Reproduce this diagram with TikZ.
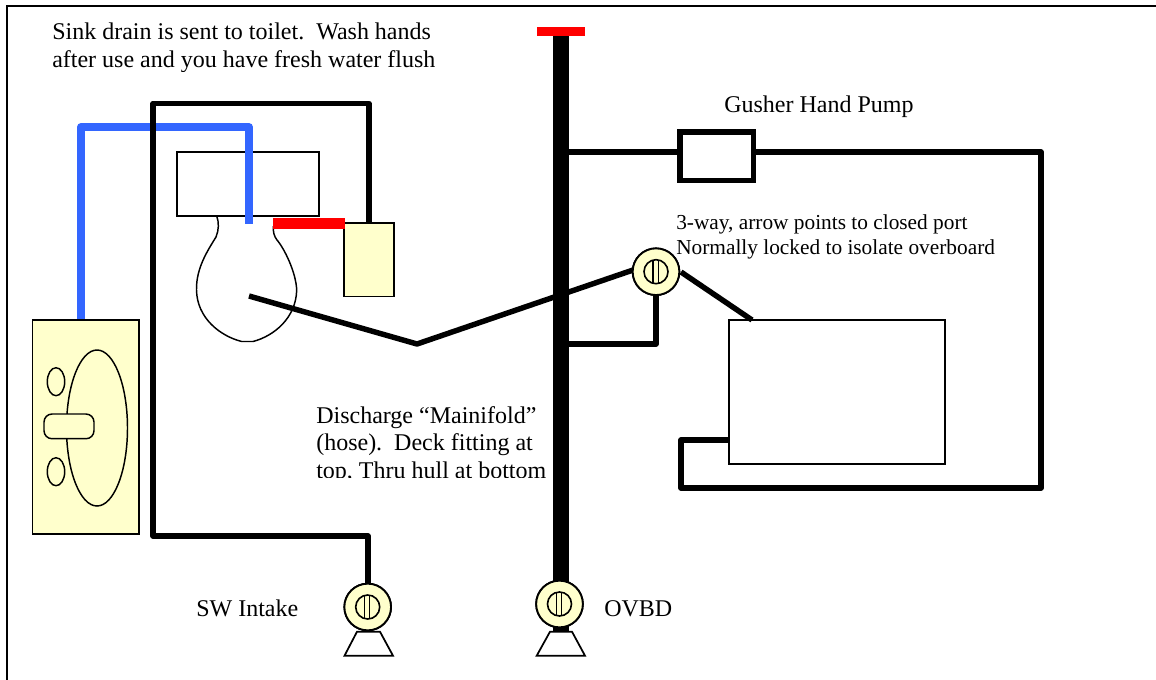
\documentclass[tikz,border=0pt]{standalone}
\usepackage{fontspec}
\setmainfont{Liberation Serif}
\tikzset{
  x=0.75pt,y=-0.75pt,
  pipe/.style={draw=black,line width=4.1pt,line join=round},
  mainpipe/.style={draw=black,line width=12pt},
  bluepipe/.style={draw=bluepipecol,line width=5.8pt,line join=round},
  redbar/.style={fill=red,draw=none},
  thin box/.style={draw=black,line width=1.3pt},
  yellow box/.style={draw=black,line width=1.3pt,fill=paleyellow},
  outline/.style={draw=black,line width=1.1pt},
  valvebody/.style={circle,draw=black,line width=1.4pt,fill=paleyellow,minimum size=35pt,inner sep=0pt},
  valvecore/.style={circle,draw=black,line width=1.2pt,minimum size=18pt,inner sep=0pt},
  label/.style={anchor=north west,inner sep=0pt,align=left,font=\fontsize{18}{20.6}\selectfont},
  smalllabel/.style={anchor=north west,inner sep=0pt,align=left,font=\fontsize{16}{19.3}\selectfont},
}
\definecolor{paleyellow}{RGB}{255,255,204}
\definecolor{bluepipecol}{RGB}{51,102,255}
\newcommand{\valvemark}[1]{%
  \draw[black,line width=0.9pt] ([xshift=-2.25pt,yshift=8.3pt]#1.center) -- ([xshift=-2.25pt,yshift=-8.3pt]#1.center);
  \draw[black,line width=0.9pt] ([xshift=1.6pt,yshift=8.3pt]#1.center) -- ([xshift=1.6pt,yshift=-8.3pt]#1.center);
}
\begin{document}
\begin{tikzpicture}
\useasboundingbox (0,0) rectangle (1156,679);
% frame
\draw[black,line width=1.9pt] (7,690) -- (7,6) -- (1170,6);
% text
\begin{scope}
\clip (40,15) rectangle (500,71);
\node[label] (sinktext) at (52,23) {Sink drain is sent to toilet.\ \ Wash hands\\after use and you have fresh water flush};
\end{scope}
\node[label,anchor=base west] (pumptext) at (724,112.3) {Gusher Hand Pump};
\node[smalllabel] (waytext) at (676,214) {3-way, arrow points to closed port\\Normally locked to isolate overboard};
\begin{scope}
\clip (300,395) rectangle (552,477.5);
\node[label] (hosetext) at (316,406) {Discharge “Mainifold”\\(hose).\ \ Deck fitting at\\top, Thru hull at bottom};
\end{scope}
\node[label,anchor=base west] (swtext) at (196,616) {SW Intake};
\node[label,anchor=base west] (ovbdtext) at (604,616) {OVBD};
% blue
\coordinate (blueA) at (81,319);
\coordinate (blueB) at (81,127);
\coordinate (blueC) at (249,127);
\coordinate (blueD) at (249,223.5);
% sink
\node[thin box,minimum width=106.5pt,minimum height=48pt,inner sep=0pt] (sink) at (248,183.7) {};
\draw[bluepipe] (blueA) -- (blueB) -- (blueC) -- (blueD);
% bowl
\draw[outline] (216.7,216) .. controls (219,222) and (219,230) .. (216,237)
  .. controls (208,250) and (196,268) .. (196.5,290)
  .. controls (197,318) and (220,336) .. (241.7,341.5)
  -- (253,341.5)
  .. controls (274,336) and (296,318) .. (296.7,290)
  .. controls (296,272) and (284,248) .. (277,240)
  .. controls (274,236) and (273,232) .. (273.3,226);
% intake pipe
\node[yellow box,minimum width=36pt,minimum height=54pt,inner sep=0pt] (tank) at (369,259.7) {};
\node[valvebody] (valveSW) at (367.7,607) {};
\node[valvebody] (valveOV) at (559.5,604) {};
\node[valvebody] (valve3) at (656,271.7) {};
\coordinate (pipeA) at (369,222);
\coordinate (pipeB) at (369,103.5);
\coordinate (pipeC) at (153,103.5);
\coordinate (pipeD) at (153,536);
\coordinate (pipeE) at (368,536);
\coordinate (pipeF) at (368,584);
\draw[pipe] (pipeA) -- (pipeB) -- (pipeC) -- (pipeD) -- (pipeE) -- (pipeF);
% red bars
\draw[yellow box] (tank.north west) rectangle (tank.south east);
\fill[redbar] (273,217.7) rectangle (345,229.3);
% main
\coordinate (mainT) at (561,35);
\coordinate (mainB) at (561,640);
\draw[mainpipe] (mainT) -- (mainB);
\fill[redbar] (537,27.3) rectangle (585,35.7);
% discharge
\coordinate (disA) at (249,296);
\coordinate (disB) at (417,344);
\coordinate (disC) at (636,269);
\draw[pipe] (disA) -- (disB) -- (disC);
% pump
\node[draw=black,line width=4.2pt,minimum width=55pt,minimum height=36.2pt,inner sep=0pt] (pump) at (716.7,156.3) {};
\coordinate (p1) at (561,152);
\coordinate (p2) at (1041,152);
\coordinate (p3) at (1041,488);
\coordinate (p4) at (681,488);
\coordinate (p5) at (681,440);
\coordinate (p6) at (729,440);
\coordinate (m1) at (561,344);
\coordinate (m2) at (656,344);
\draw[pipe] (p1) -- (pump.west |- p1);
\draw[pipe] (pump.east |- p1) -- (p2) -- (p3) -- (p4) -- (p5) -- (p6);
\draw[pipe] (m1) -- (m2) -- (valve3.center);
% engine box
\node[thin box,fill=white,minimum width=162pt,minimum height=108pt,inner sep=0pt] (box) at (837,392) {};
\coordinate (boxtop) at (752,320);
\coordinate (v3r) at (681,272);
\draw[pipe] (v3r) -- (boxtop);
% valves
\node[valvebody] at (valve3) {};
\node[valvecore] (core3) at (valve3) {};
\valvemark{core3}
% trapezoids
\coordinate (tSWa) at (344.5,655.7);
\coordinate (tSWb) at (357,631.7);
\coordinate (tSWc) at (380,631.7);
\coordinate (tSWd) at (393,655.7);
\coordinate (tOVa) at (536.7,655.7);
\coordinate (tOVb) at (550,631.7);
\coordinate (tOVc) at (572,631.7);
\coordinate (tOVd) at (585,655.7);
\draw[outline,fill=white,line width=1.3pt] (tSWa) -- (tSWb) -- (tSWc) -- (tSWd) -- cycle;
\draw[outline,fill=white,line width=1.3pt] (tOVa) -- (tOVb) -- (tOVc) -- (tOVd) -- cycle;
\node[valvebody] at (valveSW) {};
\node[valvecore] (coreSW) at (valveSW) {};
\valvemark{coreSW}
\node[valvebody] at (valveOV) {};
\node[valvecore] (coreOV) at (valveOV) {};
\valvemark{coreOV}
% pump unit
\node[yellow box,minimum width=80pt,minimum height=160.5pt,inner sep=0pt] (head) at (85.7,426.7) {};
\draw[outline] (97,428) ellipse [x radius=30.5,y radius=78];
\draw[outline] (56,381.7) ellipse [x radius=8.7,y radius=14];
\draw[outline] (56,471.7) ellipse [x radius=8.7,y radius=14];
\draw[outline,fill=paleyellow,rounded corners=6pt] (44,414) rectangle (94,438.7);
\end{tikzpicture}
\end{document}
